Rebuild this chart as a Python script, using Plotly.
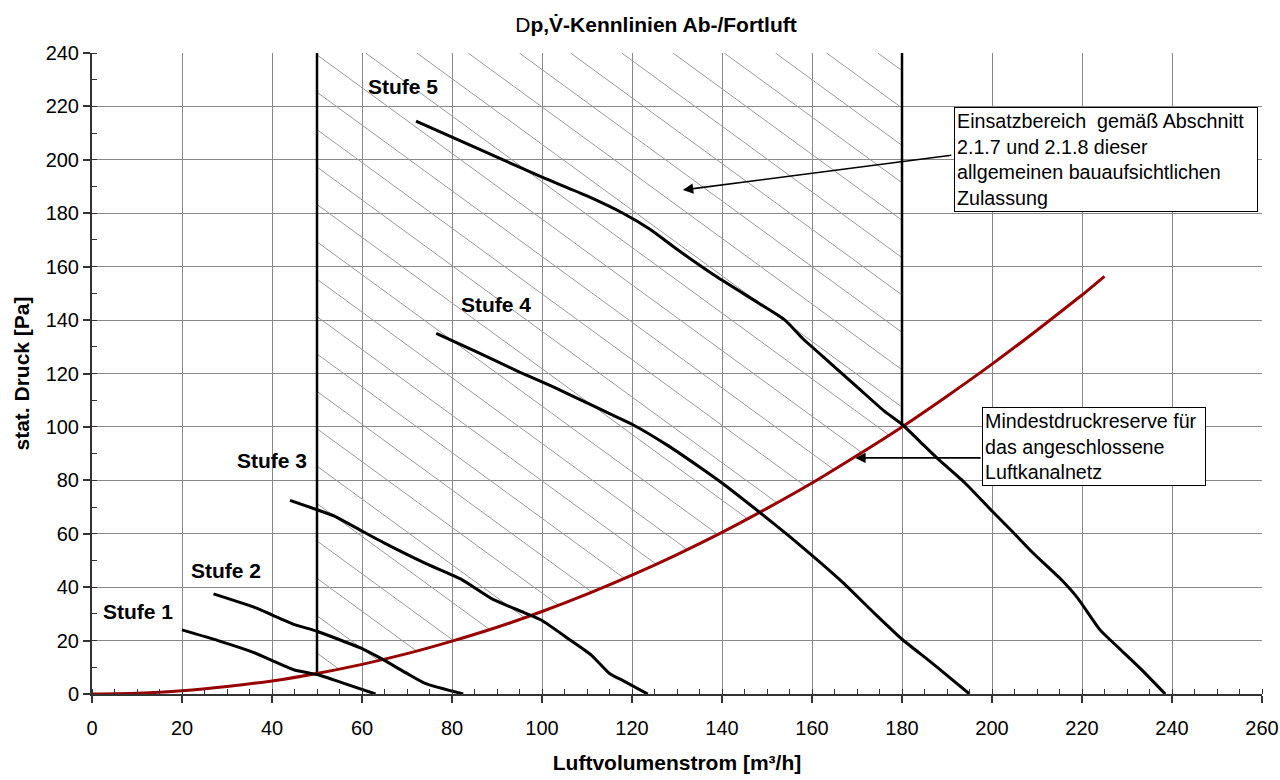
import numpy as np
import plotly.graph_objects as go

# ---------------- data ----------------
# Anlagenkennlinie / Mindestdruckreserve (red)
netz_x = [0, 10, 20, 30, 40, 50, 60, 70, 80, 90, 100, 110, 120, 130, 140, 150,
          160, 170, 180, 190, 200, 210, 220, 225]
netz_y = [0, 0.3, 1.2, 2.8, 4.9, 7.7, 11.1, 15.1, 19.8, 25, 30.9, 37.4, 44.5, 52.2,
          60.5, 69.5, 79, 89.3, 100, 111.5, 123.5, 136.2, 149.4, 156.4]

stufe1_x = [20, 28, 36, 45, 50, 56, 63]
stufe1_y = [24, 20, 15.5, 9, 7.3, 4, 0]
stufe2_x = [27, 36, 45, 50, 60, 64, 70, 74, 82.5]
stufe2_y = [37.5, 32.5, 26, 23.5, 17, 13.5, 7.7, 4, 0]
stufe3_x = [44, 50, 54, 60, 65, 74, 82, 89, 96, 100, 106, 111, 115, 118, 123.5]
stufe3_y = [72.5, 69, 66.5, 61, 56.5, 49, 43, 35.5, 30.5, 27.5, 20.5, 14.5, 7.7, 5, 0]
stufe4_x = [76.5, 85, 95, 102.5, 110, 115, 120, 128, 135, 140, 148, 155, 162, 167,
            174, 180, 186, 190, 195]
stufe4_y = [135, 128.5, 120.5, 115, 109, 105, 101, 93, 85, 79, 68.5, 59, 49, 41.5,
            30, 20.5, 12.5, 7, 0]
stufe5_x = [72, 80, 90, 100, 110, 118, 124, 130, 139, 148, 154, 158, 164, 170, 176,
            180, 184, 188, 194, 200, 205, 209, 215, 219, 224, 228, 233, 238.5]
stufe5_y = [214.5, 208.5, 201, 193.5, 186.5, 180, 174, 166.5, 156, 146.5, 140, 133,
            124, 115, 106, 101, 94.5, 88, 79, 68.5, 60, 53, 43.5, 36, 24, 17.5, 9.5, 0]

stufe_names = ["Stufe 1", "Stufe 2", "Stufe 3", "Stufe 4", "Stufe 5"]
stufe_label_x = [10.2, 29.7, 40.1, 89.7, 69.1]
stufe_label_y = [30.8, 46.4, 87.6, 146, 227.4]

# Einsatzbereich
einsatz_x_min = 50
einsatz_x_max = 180
y_max = 240
x_max = 260

# hatch style (slope in data units, spacing in Pa, phase)
hatch_slope = 1.23
hatch_step = 14.0
hatch_c0 = 230.8

FONT = "Liberation Sans, Arial, sans-serif"

fig = go.Figure()

# ---------------- hatching ----------------
xs = np.linspace(einsatz_x_min, einsatz_x_max, 2601)
ylow = np.interp(xs, netz_x, netz_y)
c_lo = einsatz_x_min * hatch_slope + ylow[0]
c_hi = einsatz_x_max * hatch_slope + y_max
k0 = int(np.floor((c_lo - hatch_c0) / hatch_step))
k1 = int(np.ceil((c_hi - hatch_c0) / hatch_step))
hx, hy = [], []
for k in range(k0, k1 + 1):
    c = hatch_c0 + k * hatch_step
    yl = c - hatch_slope * xs
    inside = (yl <= y_max) & (yl >= ylow)
    if inside.sum() > 1:
        idx = np.where(inside)[0]
        hx += [xs[idx[0]], xs[idx[-1]], None]
        hy += [yl[idx[0]], yl[idx[-1]], None]
fig.add_trace(go.Scatter(x=hx, y=hy, mode="lines",
                         line=dict(color="#9a9a9a", width=1),
                         hoverinfo="skip", showlegend=False))

# boundary lines of Einsatzbereich
for xb in (einsatz_x_min, einsatz_x_max):
    yb = float(np.interp(xb, netz_x, netz_y))
    fig.add_trace(go.Scatter(x=[xb, xb], y=[yb, y_max], mode="lines",
                             line=dict(color="black", width=2.5),
                             hoverinfo="skip", showlegend=False))

# red system curve
fig.add_trace(go.Scatter(x=netz_x, y=netz_y, mode="lines",
                         line=dict(color="#990000", width=3, shape="spline", smoothing=0.6),
                         showlegend=False))

# fan curves
for sx, sy in [(stufe1_x, stufe1_y), (stufe2_x, stufe2_y), (stufe3_x, stufe3_y),
               (stufe4_x, stufe4_y), (stufe5_x, stufe5_y)]:
    fig.add_trace(go.Scatter(x=sx, y=sy, mode="lines",
                             line=dict(color="black", width=3, shape="spline", smoothing=0.5),
                             showlegend=False))

# Stufe labels
for name, lx, ly in zip(stufe_names, stufe_label_x, stufe_label_y):
    fig.add_annotation(x=lx, y=ly, text="<b>%s</b>" % name, showarrow=False,
                       xanchor="center", yanchor="middle",
                       font=dict(family=FONT, size=21, color="black"))

# boxes with arrows
fig.add_annotation(x=131.3, y=188.7, ax=191.3, ay=201.8, axref="x", ayref="y",
                   text="", showarrow=True, arrowhead=2, arrowsize=1.3,
                   arrowwidth=1.6, arrowcolor="black")
fig.add_annotation(x=191.6, y=219.8, xanchor="left", yanchor="top",
                   text="Einsatzbereich  gemäß Abschnitt<br>2.1.7 und 2.1.8 dieser<br>"
                        "allgemeinen bauaufsichtlichen<br>Zulassung",
                   showarrow=False, align="left", width=298,
                   bordercolor="black", borderwidth=1, borderpad=2, bgcolor="white",
                   font=dict(family=FONT, size=19.7, color="black"))

fig.add_annotation(x=169.6, y=88.4, ax=197.8, ay=88.4, axref="x", ayref="y",
                   text="", showarrow=True, arrowhead=2, arrowsize=1.3,
                   arrowwidth=1.6, arrowcolor="black")
fig.add_annotation(x=197.8, y=107.5, xanchor="left", yanchor="top",
                   text="Mindestdruckreserve für<br>das angeschlossene<br>Luftkanalnetz",
                   showarrow=False, align="left", width=218,
                   bordercolor="black", borderwidth=1, borderpad=2, bgcolor="white",
                   font=dict(family=FONT, size=19.7, color="black"))

axis_common = dict(
    tickmode="linear", tick0=0, ticks="outside", ticklen=7, tickwidth=1.5,
    tickcolor="#333333", showgrid=True, gridcolor="#888888", gridwidth=1,
    showline=True, linecolor="#333333", linewidth=2, zeroline=False,
    tickfont=dict(family=FONT, size=20, color="black"),
)

fig.update_xaxes(range=[0, x_max], dtick=20, **axis_common,
                 minor=dict(dtick=5, ticks="inside", ticklen=5, tickcolor="#333333",
                            tickwidth=1, showgrid=False),
                 ticklabelstandoff=8,
                 title=dict(text="<b>Luftvolumenstrom [m³/h]</b>", standoff=17,
                            font=dict(family=FONT, size=21, color="black")))
fig.update_yaxes(range=[0, y_max], dtick=20, **axis_common,
                 minor=dict(dtick=10, ticks="inside", ticklen=5, tickcolor="#333333",
                            tickwidth=1, showgrid=False),
                 title=dict(text="<b>stat. Druck [Pa]</b>", standoff=10,
                            font=dict(family=FONT, size=21, color="black")))

W, H = 1280, 780
fig.update_layout(
    width=W, height=H,
    margin=dict(l=92, r=18, t=53, b=86, autoexpand=False),
    paper_bgcolor="white", plot_bgcolor="white",
    title=dict(text="D<b>p,V\u0307-Kennlinien Ab-/Fortluft</b>",
               x=656 / W, xanchor="center", xref="container",
               y=1 - 25 / H, yanchor="middle", yref="container",
               font=dict(family=FONT, size=21, color="black")),
    showlegend=False,
)

fig.write_html(
    "out.html",
    config={"displayModeBar": False},
    post_script="document.body.style.margin='0';document.body.style.overflow='hidden';",
)
